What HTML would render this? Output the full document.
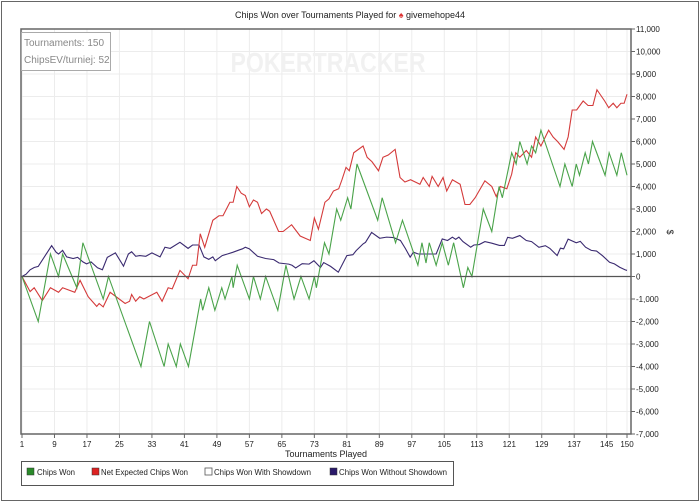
<!DOCTYPE html>
<html><head><meta charset="utf-8"><style>
html,body{margin:0;padding:0;background:#fff;}
svg{display:block;font-family:"Liberation Sans",sans-serif;}
</style></head><body>
<svg id="chart" width="700" height="503" viewBox="0 0 700 503">
<rect x="1.5" y="1.5" width="697" height="499" fill="#fff" stroke="#666"/>
<text x="350" y="18" font-size="9" text-anchor="middle" fill="#222">Chips Won over Tournaments Played for <tspan fill="#d33">♠</tspan> givemehope44</text>
<g id="grid"></g>
<text x="328" y="72" font-size="28" font-weight="bold" fill="#f1f1f1" text-anchor="middle" textLength="195" lengthAdjust="spacingAndGlyphs">POKERTRACKER</text>
<g id="lines"></g>
<g id="axes"></g>
<rect x="21.5" y="32.5" width="89" height="38" fill="#fff" stroke="#aaa"/>
<text x="24" y="46" font-size="10" fill="#888">Tournaments: 150</text>
<text x="24" y="63" font-size="10" fill="#888">ChipsEV/turniej: 52</text>
<text x="326" y="457" font-size="9" text-anchor="middle" fill="#222">Tournaments Played</text>
<text x="667" y="232" font-size="9" fill="#222" text-anchor="middle" transform="rotate(90 667 232)">$</text>
<g>
<rect x="21.5" y="461.5" width="432" height="24" fill="#fff" stroke="#555"/>
<g><rect x="27" y="468" width="7" height="7" fill="#2a8a2a" stroke="#333" stroke-width="0.5"/><text x="37" y="475" font-size="8.5" fill="#222" textLength="38" lengthAdjust="spacingAndGlyphs">Chips Won</text></g>
<g><rect x="92" y="468" width="7" height="7" fill="#d22" stroke="#333" stroke-width="0.5"/><text x="101" y="475" font-size="8.5" fill="#222" textLength="87" lengthAdjust="spacingAndGlyphs">Net Expected Chips Won</text></g>
<g><rect x="205" y="468" width="7" height="7" fill="#fff" stroke="#555" stroke-width="0.8"/><text x="214" y="475" font-size="8.5" fill="#222" textLength="97" lengthAdjust="spacingAndGlyphs">Chips Won With Showdown</text></g>
<g><rect x="330" y="468" width="7" height="7" fill="#2a1a6a" stroke="#333" stroke-width="0.5"/><text x="339" y="475" font-size="8.5" fill="#222" textLength="108" lengthAdjust="spacingAndGlyphs">Chips Won Without Showdown</text></g>
</g>
</svg>
<script>
const xTicks=[1,9,17,25,33,41,49,57,65,73,81,89,97,105,113,121,129,137,145,150];
const yTicks=[11000,10000,9000,8000,7000,6000,5000,4000,3000,2000,1000,0,-1000,-2000,-3000,-4000,-5000,-6000,-7000];
const greenT=[1,5,8,10,11,14.5,16,21,22.3,30.3,32.4,36,37,39,40,42,45,45.5,47,48.5,50.2,51,52.7,53,54,57,58,59.7,61,64,66,68,69.7,71.7,73,73.5,75.5,76.6,78.5,79.5,81.2,82,83.5,88.6,89.7,93,94.7,98.5,99.5,100.5,101.3,103,104.5,106,107.3,109.7,110.8,111.8,114.6,116.7,118.5,119.3,121.6,122.7,123.6,125.4,126.5,127.5,128.8,133.5,134.7,136.5,137.5,138.3,139.7,140.5,141.5,144.6,145.6,147.5,148.6,150];
const greenV=[0,-2000,1000,0,1000,-500,1500,-1000,0,-4000,-2000,-4000,-3000,-4000,-3000,-4000,-1000,-1500,-500,-1500,-500,-1000,0,-500,500,-1000,0,-1000,0,-1500,500,-1000,0,-1000,0,-500,1500,1000,3000,2500,3500,3000,5000,2500,3500,1500,2500,500,1500,600,1500,500,1500,500,1500,-500,400,0,3000,2000,4000,3500,5500,5000,6000,5000,5800,5500,6500,4000,5000,4000,5000,4500,5500,5000,6000,4500,5500,4500,5500,4500];
const redT=[1,3,4,6,8,10,11,14,15.3,17.3,19.4,20,21,22.7,26.4,27.5,28,29,30,31,34.2,35.5,37,38,39.9,41.9,43,44,44.9,46,48,49.5,50.5,52.2,53,53.9,55,56,57,58,59,60,61.2,62,64.2,65.3,67.4,69.5,72,73,74,75.6,76.6,77.7,79,79.8,80.8,81.6,82.7,85,86,87.2,88.8,89.9,91.2,92.9,94.1,95.3,96.7,99,99.8,101.3,102,103.5,104.7,105.6,107,108.9,110.1,111.3,112.6,115,116.7,117.8,118.8,120.4,121.6,122.6,123.6,125.2,126.5,127.5,128.8,130.7,131.8,132.9,134.5,135.5,136.5,137.6,139.2,140.4,141.6,142.6,144.5,145.5,146.6,147.5,148.5,149.3,150];
const redV=[0,-670,-500,-1070,-500,-700,-500,-700,-170,-900,-1330,-1200,-1350,-700,-1200,-1100,-800,-1100,-900,-1000,-700,-1100,-500,-550,270,-100,500,500,1900,1300,2500,2700,2700,3300,3300,4000,3700,3600,3100,3400,3300,2800,3000,2900,2000,2000,2300,1800,1600,2600,2100,3300,3450,3800,3900,4300,4850,4700,5500,5800,5300,5100,4700,5300,5400,5650,4400,4200,4300,4100,4400,4000,4450,4000,4400,3800,4300,4100,3200,3200,3500,4250,4000,3550,4000,3900,4550,5500,5300,5600,5300,6200,5800,6500,6200,6000,5650,6200,7400,7400,7800,7600,7600,8300,7800,7500,7700,7500,7700,7700,8100,7800];
const purpleT=[1,2,3,4,5,8.3,9.4,10,11,12,13.6,14.7,16,16.9,18,19.6,20.8,22,24,26,27.2,28,29,30,31.5,33,35,36.2,37.5,39.9,41.9,43,44.6,45.8,47,48,48.6,50.3,51.6,53,54.5,55.3,56,57,59,61,63,64.3,66.7,67.5,68.4,70,71.7,72.9,74.5,75.3,77,78.9,81,82.5,83.3,85,85.6,87.1,89.1,90.8,92.5,94.2,95.4,96.6,97.4,98.6,101.5,103,104.5,105.8,107,107.8,108.6,109.6,111.5,112.3,113.6,115,116.7,118.6,119.8,120.6,121.8,123.6,125.2,126.5,128.3,129.9,131,132.8,133.6,134.4,135.5,137.5,138.5,139.8,141.2,142.5,144,145.7,146.9,148.2,149.5,150];
const purpleV=[0,100,300,400,450,1370,1080,1000,1160,870,800,850,650,560,650,390,300,850,1050,460,1000,1100,900,930,900,1050,870,1300,1250,1520,1250,1400,1400,870,760,870,700,930,1000,1080,1180,1230,1300,1230,900,800,750,600,550,500,380,570,550,700,400,620,450,190,930,970,1150,1450,1520,1960,1700,1750,1730,1600,1250,860,1080,1000,1000,1000,1670,1600,1750,1650,1750,1550,1300,1400,1420,1550,1480,1380,1380,1740,1700,1820,1600,1550,1300,1370,1250,930,1260,1230,1660,1500,1560,1300,1160,1130,920,630,560,410,300,270];

const L=21,R=631,T=29,B=434;
const x=t=>22+(t-1)*(627-22)/149;
const y=v=>T+(11000-v)*(B-T)/18000;
const NS='http://www.w3.org/2000/svg';
function mk(tag,attrs,parent){const e=document.createElementNS(NS,tag);for(const k in attrs)e.setAttribute(k,attrs[k]);parent.appendChild(e);return e;}
const grid=document.getElementById('grid'),axes=document.getElementById('axes'),lines=document.getElementById('lines');
yTicks.forEach(v=>{
  const g=mk('line',{x1:L,x2:R,y1:y(v),y2:y(v),stroke:'#ececec','stroke-width':1},grid);
  
  
  const tk=mk('line',{x1:R,x2:R+4,y1:y(v),y2:y(v),stroke:'#666'},axes);
  
  
  const lb=mk('text',{x:R+5,y:y(v)+3,'font-size':8,fill:'#222'},axes);
  lb.textContent=v.toLocaleString('en-US');
  
  
});
xTicks.forEach(t=>{
  const g=mk('line',{x1:x(t),x2:x(t),y1:T,y2:B,stroke:'#ececec'},grid);
  
  
  const tk=mk('line',{x1:x(t),x2:x(t),y1:B,y2:B+4,stroke:'#666'},axes);
  
  
  const lb=mk('text',{x:x(t),y:B+13,'font-size':8,fill:'#222','text-anchor':'middle'},axes);
  lb.textContent=t;
  
  
});
const fr=mk('rect',{x:L,y:T,width:R-L,height:B-T,fill:'none',stroke:'#666','stroke-width':1.5},axes);


const z=mk('line',{x1:L,x2:R,y1:y(0),y2:y(0),stroke:'#555','stroke-width':1.3},axes);


function series(ts,vs,color,name){
  const p=mk('polyline',{points:ts.map((t,i)=>x(t)+','+y(vs[i])).join(' '),fill:'none',stroke:color,'stroke-width':1.1},lines);
  
  
}
series(purpleT,purpleV,'#3a2a70','line-chips-won-without-showdown');
series(redT,redV,'#d43a3a','line-net-expected-chips-won');
series(greenT,greenV,'#4aa34a','line-chips-won');
</script>
</body></html>
